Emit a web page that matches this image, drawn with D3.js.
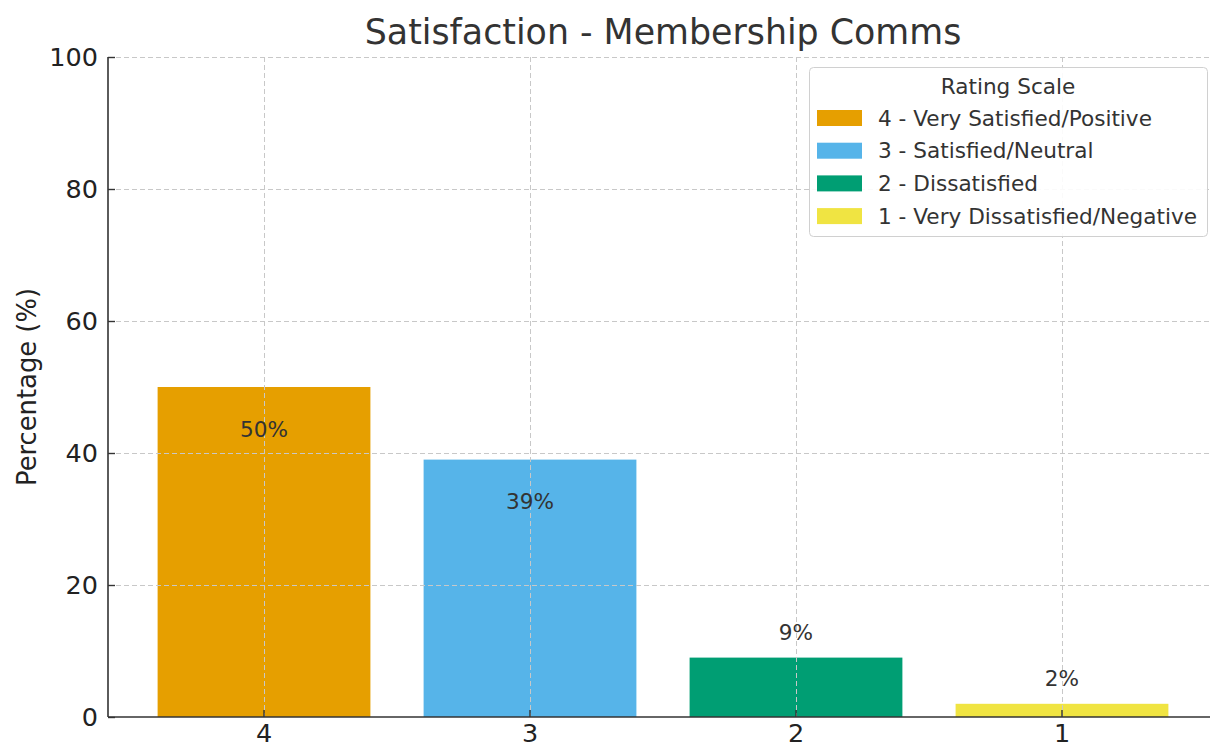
<!DOCTYPE html>
<html>
<head>
<meta charset="utf-8">
<script src="https://cdn.jsdelivr.net/npm/d3@7"></script>
<style>
  html, body { margin: 0; padding: 0; background: #fff; }
  svg { display: block; font-family: "DejaVu Sans", sans-serif; }
</style>
</head>
<body>
<svg id="chart" width="1210" height="749"></svg>
<script>
// Survey results: share of respondents per rating
const categories = ["4", "3", "2", "1"];
const percentages = [50, 39, 9, 2];
const colors = ["#E69F00", "#56B4E9", "#009E73", "#F0E442"];
const legendLabels = [
  "4 - Very Satisfied/Positive",
  "3 - Satisfied/Neutral",
  "2 - Dissatisfied",
  "1 - Very Dissatisfied/Negative"
];
const yTicks = [0, 20, 40, 60, 80, 100];

const svg = d3.select("#chart");
const plotLeft = 108, plotRight = 1218, plotTop = 57, plotBottom = 717;

const x = d3.scaleBand()
  .domain(categories)
  .range([plotLeft, plotRight])
  .paddingInner(0.2)
  .paddingOuter(0.1865);

const y = d3.scaleLinear().domain([0, 100]).range([plotBottom, plotTop]);

// Bars
svg.append("g").selectAll("rect")
  .data(percentages)
  .join("rect")
  .attr("x", (d, i) => x(categories[i]))
  .attr("y", d => y(d))
  .attr("width", x.bandwidth())
  .attr("height", d => y(0) - y(d))
  .attr("fill", (d, i) => colors[i]);

// Dashed grid drawn over the bars
const grid = svg.append("g")
  .attr("stroke", "#c8c8c8")
  .attr("stroke-width", 1)
  .attr("stroke-dasharray", "5,3");
grid.selectAll(".hg").data(yTicks.filter(t => t > 0)).join("line")
  .attr("x1", plotLeft).attr("x2", plotRight)
  .attr("y1", d => y(d) + 0.5).attr("y2", d => y(d) + 0.5);
grid.selectAll(".vg").data(categories).join("line")
  .attr("x1", d => Math.round(x(d) + x.bandwidth() / 2) + 0.5)
  .attr("x2", d => Math.round(x(d) + x.bandwidth() / 2) + 0.5)
  .attr("y1", plotTop).attr("y2", plotBottom);

// Axes
const yAxis = svg.append("g")
  .attr("transform", `translate(${plotLeft},0)`)
  .call(d3.axisLeft(y).tickValues(yTicks).tickSize(-7).tickPadding(10).tickFormat(d3.format("d")));
const xAxis = svg.append("g")
  .attr("transform", `translate(0,${plotBottom})`)
  .call(d3.axisBottom(x).tickSize(-7).tickPadding(7));
[yAxis, xAxis].forEach(g => {
  g.select(".domain").attr("stroke", "#333").attr("stroke-width", 1.6);
  g.selectAll(".tick line").attr("stroke", "#333").attr("stroke-width", 1.4);
  g.selectAll(".tick text")
    .attr("fill", "#222")
    .style("font-family", "DejaVu Sans")
    .style("font-size", "25.5px");
});
xAxis.select(".domain").attr("d", `M${plotLeft},0H${plotRight}`);
yAxis.select(".domain").attr("d", `M0,${plotBottom}V${plotTop}`);

// Value labels
svg.append("g").selectAll("text")
  .data(percentages)
  .join("text")
  .attr("x", (d, i) => x(categories[i]) + x.bandwidth() / 2)
  .attr("y", d => d > 10 ? y(d) + 42 : y(d) - 25)
  .attr("text-anchor", "middle")
  .attr("dominant-baseline", "central")
  .attr("fill", "#333")
  .style("font-size", "21.6px")
  .text(d => d + "%");

// Title and axis label
svg.append("text")
  .attr("x", (plotLeft + plotRight) / 2).attr("y", 32)
  .attr("text-anchor", "middle").attr("dominant-baseline", "central")
  .attr("fill", "#333").style("font-size", "34.8px")
  .text("Satisfaction - Membership Comms");

svg.append("text")
  .attr("transform", `translate(27,${(plotTop + plotBottom) / 2}) rotate(-90)`)
  .attr("text-anchor", "middle").attr("dominant-baseline", "central")
  .attr("fill", "#222").style("font-size", "25.8px")
  .text("Percentage (%)");

// Legend
const lg = svg.append("g").attr("transform", "translate(809,67)");
lg.append("rect")
  .attr("x", 0.5).attr("y", 0.5).attr("width", 398).attr("height", 169)
  .attr("rx", 4).attr("fill", "#fff").attr("fill-opacity", 0.9)
  .attr("stroke", "#d0d0d0").attr("stroke-width", 1);
lg.append("text")
  .attr("x", 199).attr("y", 19)
  .attr("text-anchor", "middle").attr("dominant-baseline", "central")
  .attr("fill", "#333").style("font-size", "21.6px")
  .text("Rating Scale");
const rows = lg.selectAll(".row").data(legendLabels).join("g")
  .attr("transform", (d, i) => `translate(0,${51 + i * 32.7})`);
rows.append("rect")
  .attr("x", 8).attr("y", -8).attr("width", 45).attr("height", 16)
  .attr("fill", (d, i) => colors[i]);
rows.append("text")
  .attr("x", 69).attr("y", 0)
  .attr("dominant-baseline", "central")
  .attr("fill", "#333").style("font-size", "21.6px")
  .text(d => d);
</script>
</body>
</html>
